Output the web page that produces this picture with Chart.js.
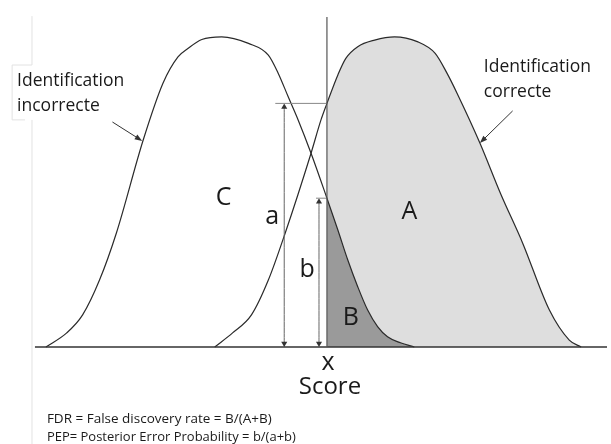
<!DOCTYPE html>
<html lang="fr">
<head>
<meta charset="UTF-8">
<title>FDR / PEP</title>
<style>
  body { margin: 0; background: #fff; }
  canvas { display: block; }
</style>
</head>
<body>
<canvas id="scoreChart" width="611" height="444"></canvas>

<script src="https://cdn.jsdelivr.net/npm/chart.js"></script>
<script>
// score threshold (x)
const threshold = 30;

// incorrect identifications (left curve)
const incorrectScore   = [1.7, 3.8, 5.4, 7.1, 8.8, 11.5, 13.5, 15.0, 16.0, 17.4, 19.4, 22.1, 24.1, 25.1, 26.1, 27.1, 28.4, 30.0, 31.1, 32.1, 33.1, 34.1, 35.1, 36.1, 37.4, 38.8];
const incorrectDensity = [0, 4.7, 10.7, 22.3, 38, 69, 88, 96.7, 99.5, 102.5, 103.4, 101.2, 97.3, 91.2, 83.4, 75.7, 64.6, 49.6, 39, 29, 20.1, 12.3, 6.8, 3.4, 1.4, 0];

// correct identifications (right curve)
const correctScore   = [18.7, 20.5, 22.4, 24.1, 25.8, 28.4, 29.4, 30.0, 31.1, 31.9, 33.1, 34.8, 36.8, 39.1, 40.9, 42.1, 43.1, 45.4, 47.5, 49.7, 52.4, 54.4, 55.6];
const correctDensity = [0, 4.7, 10.7, 22.3, 38, 64.6, 75.7, 81.2, 90.7, 96.2, 100.1, 102.3, 103.4, 101.8, 97.9, 91.2, 84.6, 68, 51, 34.7, 12.3, 2.3, 0];

const toPoints = (xs, ys) => xs.map((x, i) => ({ x: x, y: ys[i] }));
const incorrectPts = toPoints(incorrectScore, incorrectDensity);
const correctPts = toPoints(correctScore, correctDensity);

// heights read at the threshold
const a = correctPts.find(p => p.x === threshold).y;
const b = incorrectPts.find(p => p.x === threshold).y;

const lineBase = { pointRadius: 0, borderWidth: 1, cubicInterpolationMode: 'monotone', clip: false, fill: false };

const labels = [
  { text: 'C', x: 19.6, y: 49.7, size: 25 },
  { text: 'a', x: 24.5, y: 43.3, size: 25 },
  { text: 'b', x: 28.0, y: 25.7, size: 25 },
  { text: 'A', x: 38.3, y: 45, size: 25 },
  { text: 'B', x: 32.4, y: 9.7, size: 25 },
  { text: 'x', x: 30.1, y: -5.3, size: 25 },
  { text: 'Score', x: 30.3, y: -13.3, size: 24 },
  { text: 'Identification', x: -1.2, y: 88.7, size: 17.5, align: 'left' },
  { text: 'incorrecte', x: -1.2, y: 80.3, size: 17.5, align: 'left' },
  { text: 'Identification', x: 45.8, y: 93.3, size: 17.5, align: 'left' },
  { text: 'correcte', x: 45.8, y: 85, size: 17.5, align: 'left' },
  { text: 'FDR = False discovery rate = B/(A+B)', x: 1.8, y: -24, size: 13.5, align: 'left', w: 226 },
  { text: 'PEP= Posterior Error Probability = b/(a+b)', x: 1.8, y: -30.2, size: 13.5, align: 'left', w: 249 }
];

const callouts = [
  { from: [8.4, 75], to: [11.4, 68.7] },
  { from: [48.7, 78.7], to: [45.4, 68] }
];

const annotate = {
  id: 'annotate',
  afterDatasetsDraw(chart) {
    const { ctx, scales: { x, y } } = chart;
    ctx.save();
    // faint frame on the left
    ctx.strokeStyle = '#e2e2e2';
    ctx.lineWidth = 1;
    ctx.beginPath();
    ctx.moveTo(x.getPixelForValue(0.3), y.getPixelForValue(110.3));
    ctx.lineTo(x.getPixelForValue(0.3), y.getPixelForValue(94));
    ctx.lineTo(x.getPixelForValue(-1.7), y.getPixelForValue(94));
    ctx.lineTo(x.getPixelForValue(-1.7), y.getPixelForValue(75.7));
    ctx.lineTo(x.getPixelForValue(-0.4), y.getPixelForValue(75.7));
    ctx.moveTo(x.getPixelForValue(0.3), y.getPixelForValue(75.7));
    ctx.lineTo(x.getPixelForValue(0.3), y.getPixelForValue(-33));
    ctx.stroke();

    // callout arrows
    ctx.strokeStyle = '#333';
    ctx.fillStyle = '#333';
    callouts.forEach(c => {
      const x1 = x.getPixelForValue(c.from[0]), y1 = y.getPixelForValue(c.from[1]);
      const x2 = x.getPixelForValue(c.to[0]), y2 = y.getPixelForValue(c.to[1]);
      const ang = Math.atan2(y2 - y1, x2 - x1);
      ctx.beginPath();
      ctx.moveTo(x1, y1);
      ctx.lineTo(x2 - 6 * Math.cos(ang), y2 - 6 * Math.sin(ang));
      ctx.stroke();
      ctx.beginPath();
      ctx.moveTo(x2, y2);
      ctx.lineTo(x2 - 8 * Math.cos(ang - 0.35), y2 - 8 * Math.sin(ang - 0.35));
      ctx.lineTo(x2 - 8 * Math.cos(ang + 0.35), y2 - 8 * Math.sin(ang + 0.35));
      ctx.closePath();
      ctx.fill();
    });

    // texts
    ctx.fillStyle = '#1a1a1a';
    ctx.textBaseline = 'middle';
    labels.forEach(l => {
      ctx.font = l.size + 'px "Open Sans", sans-serif';
      ctx.textAlign = l.align || 'center';
      const px = x.getPixelForValue(l.x), py = y.getPixelForValue(l.y);
      if (l.w) ctx.fillText(l.text, px, py, l.w);
      else ctx.fillText(l.text, px, py);
    });
    ctx.restore();
  }
};

const arrowHeads = { pointRadius: 3.5, pointStyle: 'triangle', rotation: [180, 0], pointBackgroundColor: '#333', pointBorderColor: '#333', pointBorderWidth: 0 };

new Chart(document.getElementById('scoreChart'), {
  type: 'line',
  data: {
    datasets: [
      // shaded area A (correct, right of threshold)
      { ...lineBase, data: correctPts.filter(p => p.x >= threshold), borderWidth: 0, fill: 'origin', backgroundColor: '#dedede', order: 10 },
      // shaded area B (incorrect, right of threshold)
      { ...lineBase, data: incorrectPts.filter(p => p.x >= threshold), borderWidth: 0, fill: 'origin', backgroundColor: '#9a9a9a', order: 9 },
      // the two curves
      { ...lineBase, data: incorrectPts, borderColor: '#2a2a2a', borderWidth: 1.2, order: 5 },
      { ...lineBase, data: correctPts, borderColor: '#2a2a2a', borderWidth: 1.2, order: 5 },
      // baseline
      { ...lineBase, data: [{ x: 0.6, y: 0 }, { x: 58.2, y: 0 }], borderColor: '#333', borderWidth: 1.3, order: 4 },
      // threshold line
      { ...lineBase, data: [{ x: threshold, y: 0 }, { x: threshold, y: 110 }], borderColor: '#555', borderWidth: 1.2, order: 3 },
      // a marker
      { ...lineBase, data: [{ x: 24.8, y: a }, { x: threshold, y: a }], borderColor: '#888', order: 3 },
      { ...lineBase, ...arrowHeads, data: [{ x: 25.7, y: 1.2 }, { x: 25.7, y: a - 1.2 }], borderColor: '#666', order: 3 },
      // b marker
      { ...lineBase, data: [{ x: 28.9, y: b }, { x: threshold, y: b }], borderColor: '#888', order: 3 },
      { ...lineBase, ...arrowHeads, data: [{ x: 29.2, y: 1.2 }, { x: 29.2, y: b - 1.2 }], borderColor: '#666', order: 3 }
    ]
  },
  options: {
    responsive: false,
    devicePixelRatio: 1,
    animation: false,
    layout: { padding: { left: 29, right: 0, top: 17, bottom: 97 } },
    plugins: { legend: { display: false }, tooltip: { enabled: false } },
    scales: {
      x: { type: 'linear', min: 0, max: 58.2, display: false },
      y: { min: 0, max: 110, display: false }
    }
  },
  plugins: [annotate]
});
</script>
</body>
</html>
